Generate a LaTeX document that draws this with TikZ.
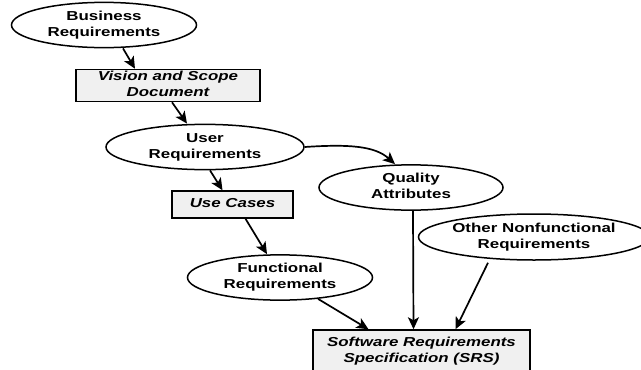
\documentclass[tikz,border=0pt]{standalone}
\usepackage{fontspec}
\usepackage{graphicx}
\setmainfont{Liberation Sans}
\usetikzlibrary{arrows.meta,shapes.geometric}
\newcommand{\lblfont}{\fontsize{13}{16}\selectfont\bfseries}
\newcommand{\boxfont}{\fontsize{13}{16}\selectfont\bfseries\itshape}
\newcommand{\wide}[1]{\scalebox{1.3}[1]{\begin{tabular}{@{}c@{}}#1\end{tabular}}}
\begin{document}
\begin{tikzpicture}[x=1pt,y=-1pt,
  ell/.style={ellipse, draw, line width=1.5pt, inner sep=0pt, align=center, font=\lblfont},
  docbox/.style={rectangle, draw, fill=gray!12, line width=1.5pt, inner sep=0pt, align=center, font=\boxfont},
  arr/.style={-{Stealth[length=12pt,width=11pt,inset=3pt]}, line width=1.7pt}]
\useasboundingbox (0,0) rectangle (641,370);
\clip (0,0) rectangle (641,370);
\node[ell, minimum width=185pt, minimum height=36pt] (biz) at (104,25) {\wide{Business\\Requirements}};
\node[docbox, minimum width=184pt, minimum height=27pt] (vis) at (168,85.5) {\wide{Vision and Scope\\Document}};
\node[ell, minimum width=198pt, minimum height=37pt] (usr) at (205,147) {\wide{User\\Requirements}};
\node[docbox, minimum width=121pt, minimum height=27pt] (uc) at (232.5,204.5) {\wide{Use Cases}};
\node[ell, minimum width=184pt, minimum height=39pt] (qa) at (411,187.5) {\wide{Quality\\Attributes}};
\node[ell, minimum width=212pt, minimum height=46pt] (oth) at (534,237) {\wide{Other Nonfunctional\\Requirements}};
\node[ell, minimum width=185pt, minimum height=39pt] (fun) at (280,277.5) {\wide{Functional\\Requirements}};
\node[docbox, minimum width=217pt, minimum height=42pt] (srs) at (421.5,351) {\wide{Software Requirements\\Specification (SRS)}};
\draw[arr] ([xshift=19pt]biz.south) -- ([xshift=-33pt]vis.north);
\draw[arr] ([xshift=4pt]vis.south) -- ([xshift=-18pt]usr.north);
\draw[arr] ([xshift=5pt]usr.south) -- ([xshift=-10pt]uc.north);
\draw[arr] ([xshift=13pt]uc.south) -- ([xshift=-13pt]fun.north);
\draw[arr] (usr.east) .. controls +(45,-3) and +(-20,-18) .. ([xshift=-16pt]qa.north);
\draw[arr] ([xshift=38pt,yshift=2pt]fun.south) -- ([xshift=-53pt]srs.north);
\draw[arr] ([xshift=2pt]qa.south) -- ([xshift=-8pt]srs.north);
\draw[arr] ([xshift=-46pt,yshift=-2pt]oth.south) -- ([xshift=34pt]srs.north);
\end{tikzpicture}
\end{document}
